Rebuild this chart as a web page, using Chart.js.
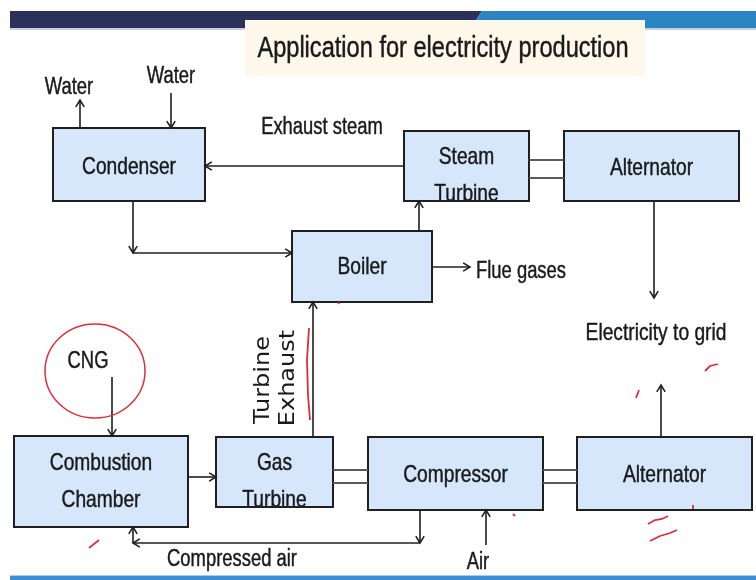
<!DOCTYPE html>
<html>
<head>
<meta charset="utf-8">
<script src="https://cdn.jsdelivr.net/npm/chart.js@4/dist/chart.umd.min.js"></script>
<style>
html,body{margin:0;padding:0;background:#fff;}
#c{display:block;}
</style>
</head>
<body>
<canvas id="c" width="756" height="580"></canvas>
<script>
// ---- data ----
const titleText = 'Application for electricity production';
const boxLabels = ['Condenser','Steam\nTurbine','Alternator','Boiler','Combustion\nChamber','Gas\nTurbine','Compressor','Alternator'];
const boxLeft   = [53, 404, 564, 292, 14, 216, 368, 577];
const boxTop    = [128, 131, 131, 231, 436, 437, 437, 437];
const boxRight  = [205, 529, 739, 432, 188, 333, 543, 752];
const boxBottom = [201, 201, 201, 302, 527, 507, 510, 510];
const boxTextY  = [167, 157, 168, 267, 463, 463, 475, 475];

// connector polylines [x,y]...; last point gets an arrowhead when flagged
const connectors = [
  [[80,128],[80,100]],
  [[171,93],[171,128]],
  [[404,166],[205,166]],
  [[133,201],[133,253]],
  [[133,253],[292,253]],
  [[419,231],[419,201]],
  [[432,267],[470,267]],
  [[654,201],[654,298]],
  [[112,377],[112,436]],
  [[188,477],[216,477]],
  [[313,436],[313,302]],
  [[420,510],[420,543]],
  [[420,543],[133,543]],
  [[133,543],[133,527]],
  [[486,545],[486,510]],
  [[661,437],[661,385]]
];
const connectorArrow = [true,true,true,true,true,true,true,true,true,true,true,true,true,true,true,true];

// shaft double lines between machines
const shaftX1 = [529, 333, 543];
const shaftX2 = [564, 368, 577];
const shaftYA = [160, 470, 470];
const shaftYB = [178, 483, 483];

const freeLabels = ['Water','Water','Exhaust steam','Flue gases','Electricity to grid','CNG','Compressed air','Air'];
const freeX = [69, 171, 322, 521, 656, 88, 232, 478];
const freeY = [88, 77, 128, 272, 333, 362, 560, 563];
const freeSize = [23, 23, 23, 23, 24, 23, 23, 23];

const vertLabels = ['Turbine','Exhaust'];
const vertX = [264, 289];
const vertY = [380, 378];

// red hand annotations
const redStrokes = [
  [[89,548],[99,540]],
  [[309,328],[307,360],[308,395],[310,420]],
  [[636,398],[639,390]],
  [[705,371],[710,366],[718,364]],
  [[513,514],[515,516]],
  [[648,524],[655,520],[662,519],[668,516]],
  [[650,541],[660,536],[670,533],[677,530]],
  [[693,505],[693,509]],
  [[338,302],[339,304]]
];

// ---- drawing ----
const SX = 0.8;
function txt(ctx, s, x, y, size, color, family) {
  ctx.save();
  ctx.translate(x, y);
  ctx.scale(SX, 1);
  ctx.font = size + 'px ' + (family || '"Liberation Sans", Arial, sans-serif');
  ctx.fillStyle = color || '#1a1a1a';
  ctx.strokeStyle = color || '#1a1a1a';
  ctx.lineWidth = 0.45;
  ctx.textAlign = 'center';
  ctx.textBaseline = 'middle';
  ctx.fillText(s, 0, 0);
  ctx.strokeText(s, 0, 0);
  ctx.restore();
}

const diagramPlugin = {
  id: 'diagram',
  beforeDatasetsDraw(chart) {
    const ctx = chart.ctx, xs = chart.scales.x, ys = chart.scales.y;
    const X = v => xs.getPixelForValue(v), Y = v => ys.getPixelForValue(v);
    ctx.save();
    // top band
    ctx.fillStyle = '#2c3159';
    ctx.beginPath();
    ctx.moveTo(X(10),Y(11)); ctx.lineTo(X(482),Y(11)); ctx.lineTo(X(471),Y(28)); ctx.lineTo(X(10),Y(28)); ctx.closePath(); ctx.fill();
    ctx.fillStyle = '#2a86c3';
    ctx.beginPath();
    ctx.moveTo(X(482),Y(11)); ctx.lineTo(X(756),Y(11)); ctx.lineTo(X(756),Y(28)); ctx.lineTo(X(471),Y(28)); ctx.closePath(); ctx.fill();
    ctx.fillStyle = '#c9cde0';
    ctx.fillRect(X(10), Y(28), X(756)-X(10), 2);
    // title box
    ctx.fillStyle = '#fdf8e9';
    ctx.fillRect(X(245), Y(20), X(645)-X(245), Y(76)-Y(20));
    txt(ctx, titleText, X(443), Y(49), 29.5, '#1a1a1a');
    // bottom stripe
    ctx.fillStyle = '#3f8fd2';
    ctx.fillRect(X(10), Y(576), X(756)-X(10), Y(580)-Y(576));
    ctx.fillStyle = '#a9cbea';
    ctx.fillRect(X(10), Y(575), X(756)-X(10), 1);
    // boxes
    for (let i = 0; i < boxLabels.length; i++) {
      const l = X(boxLeft[i]), t = Y(boxTop[i]), w = X(boxRight[i]) - l, h = Y(boxBottom[i]) - t;
      ctx.fillStyle = '#d6e7fb';
      ctx.fillRect(l, t, w, h);
      ctx.save();
      ctx.beginPath(); ctx.rect(l, t, w, h); ctx.clip();
      const lines = boxLabels[i].split('\n');
      const cx = (X(boxLeft[i]) + X(boxRight[i])) / 2;
      lines.forEach((s, k) => txt(ctx, s, cx, Y(boxTextY[i] + k * 37), 24, '#1a1a1a'));
      ctx.restore();
      ctx.strokeStyle = '#1f1f1f';
      ctx.lineWidth = 2;
      ctx.strokeRect(l, t, w, h);
    }
    // shafts
    ctx.strokeStyle = '#5a5a5a';
    ctx.lineWidth = 2.2;
    for (let i = 0; i < shaftX1.length; i++) {
      [shaftYA[i], shaftYB[i]].forEach(yy => {
        ctx.beginPath(); ctx.moveTo(X(shaftX1[i]), Y(yy)); ctx.lineTo(X(shaftX2[i]), Y(yy)); ctx.stroke();
      });
    }
    ctx.restore();
  },
  afterDatasetsDraw(chart) {
    const ctx = chart.ctx, xs = chart.scales.x, ys = chart.scales.y;
    const X = v => xs.getPixelForValue(v), Y = v => ys.getPixelForValue(v);
    ctx.save();
    // arrowheads
    ctx.strokeStyle = '#1f1f1f';
    ctx.lineWidth = 1.6;
    connectors.forEach((pts, i) => {
      if (!connectorArrow[i]) return;
      const a = pts[pts.length - 2], b = pts[pts.length - 1];
      const x1 = X(a[0]), y1 = Y(a[1]), x2 = X(b[0]), y2 = Y(b[1]);
      const ang = Math.atan2(y2 - y1, x2 - x1);
      const L = 8, W = 0.55;
      ctx.beginPath();
      ctx.moveTo(x2 - L * Math.cos(ang - W), y2 - L * Math.sin(ang - W));
      ctx.lineTo(x2, y2);
      ctx.lineTo(x2 - L * Math.cos(ang + W), y2 - L * Math.sin(ang + W));
      ctx.stroke();
    });
    // free labels
    freeLabels.forEach((s, i) => txt(ctx, s, X(freeX[i]), Y(freeY[i]), freeSize[i], '#1a1a1a'));
    // vertical labels
    vertLabels.forEach((s, i) => {
      ctx.save();
      ctx.translate(X(vertX[i]), Y(vertY[i]));
      ctx.scale(0.86, 1);
      ctx.rotate(-Math.PI / 2);
      ctx.font = '24px "DejaVu Sans", sans-serif';
      ctx.fillStyle = '#1a1a1a';
      ctx.textAlign = 'center';
      ctx.textBaseline = 'middle';
      ctx.fillText(s, 0, 0);
      ctx.restore();
    });
    // red annotations
    ctx.strokeStyle = '#d9303c';
    ctx.lineWidth = 1.5;
    ctx.beginPath();
    ctx.ellipse(X(95), Y(371), X(145) - X(95), Y(418) - Y(371), 0, 0, Math.PI * 2);
    ctx.stroke();
    ctx.lineWidth = 1.8;
    redStrokes.forEach(pts => {
      ctx.beginPath();
      pts.forEach((p, k) => k ? ctx.lineTo(X(p[0]), Y(p[1])) : ctx.moveTo(X(p[0]), Y(p[1])));
      ctx.stroke();
    });
    ctx.restore();
  }
};

new Chart(document.getElementById('c'), {
  type: 'scatter',
  data: {
    datasets: connectors.map(pts => ({
      data: pts.map(p => ({x: p[0], y: p[1]})),
      showLine: true,
      borderColor: '#1f1f1f',
      borderWidth: 1.6,
      pointRadius: 0,
      pointHoverRadius: 0,
      fill: false,
      clip: false,
      tension: 0
    }))
  },
  options: {
    responsive: false,
    animation: false,
    events: [],
    layout: {padding: 0},
    plugins: {legend: {display: false}, tooltip: {enabled: false}, title: {display: false}},
    scales: {
      x: {type: 'linear', min: 0, max: 756, display: false},
      y: {type: 'linear', min: 0, max: 580, reverse: true, display: false}
    }
  },
  plugins: [diagramPlugin]
});
</script>
</body>
</html>
